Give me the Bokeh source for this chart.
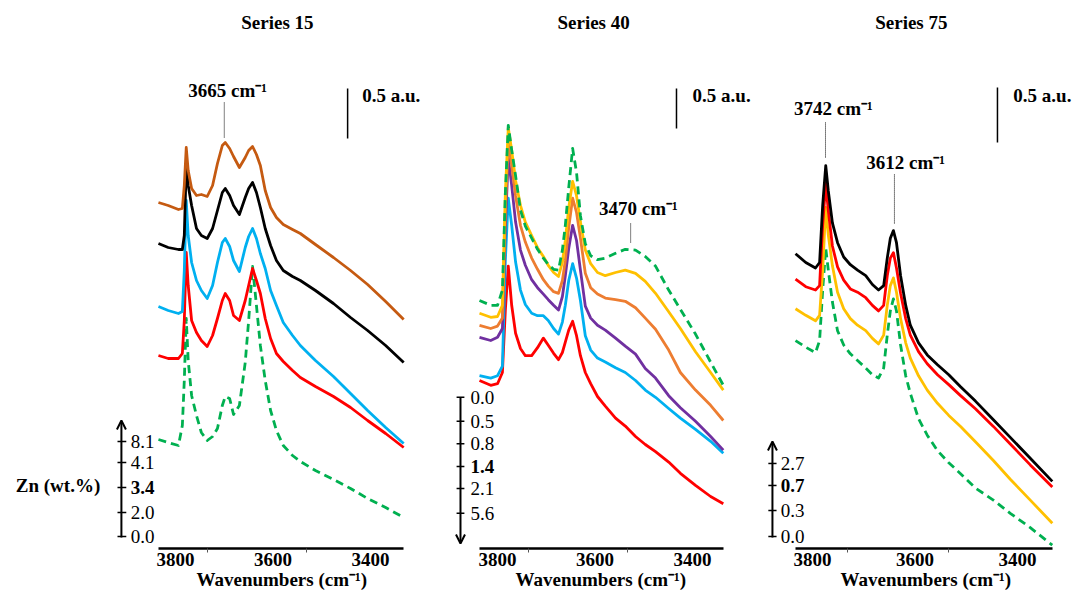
from bokeh.plotting import figure
from bokeh.layouts import row
from bokeh.models import Range1d, FixedTicker, Arrow, OpenHead, Title
from bokeh.core.properties import value
from bokeh.embed import file_html
from bokeh.resources import INLINE

FONT = "Liberation Serif"

# ---------------- data ----------------
x_ticks = [3800, 3600, 3400]
x_title = "Wavenumbers (cm\u207b\u00b9)"

# Series 15
wn15 = [3835, 3815, 3794, 3786, 3782, 3778, 3774, 3767, 3757, 3747, 3735, 3724, 3714, 3704, 3698, 3689, 3681,
        3669, 3657, 3650, 3642, 3634, 3626, 3616, 3605, 3593, 3579, 3560, 3544, 3513, 3476, 3441, 3406, 3369, 3332]
s15_brown = [3.46, 3.43, 3.39, 3.40, 3.63, 4.01, 3.78, 3.60, 3.53, 3.54, 3.52, 3.63, 3.85, 4.03, 4.06, 4.00, 3.92,
             3.81, 3.91, 3.98, 4.02, 3.94, 3.83, 3.58, 3.41, 3.31, 3.24, 3.19, 3.15, 3.04, 2.91, 2.78, 2.64, 2.47, 2.29]
s15_black = [3.05, 3.01, 2.99, 2.99, 3.13, 3.83, 3.63, 3.43, 3.20, 3.13, 3.10, 3.20, 3.38, 3.56, 3.60, 3.53, 3.43,
             3.34, 3.51, 3.60, 3.66, 3.56, 3.41, 3.20, 3.03, 2.88, 2.78, 2.72, 2.68, 2.58, 2.45, 2.31, 2.18, 2.03, 1.86]
s15_cyan = [2.42, 2.38, 2.35, 2.37, 2.78, 3.48, 3.13, 2.86, 2.68, 2.58, 2.50, 2.63, 2.86, 3.06, 3.10, 3.02, 2.88,
            2.77, 3.01, 3.12, 3.20, 3.10, 2.95, 2.80, 2.58, 2.43, 2.26, 2.13, 2.03, 1.88, 1.72, 1.55, 1.38, 1.21, 1.05]
s15_red = [1.93, 1.90, 1.90, 1.95, 2.28, 2.96, 2.63, 2.28, 2.16, 2.08, 2.02, 2.13, 2.30, 2.48, 2.55, 2.48, 2.33,
           2.28, 2.48, 2.63, 2.80, 2.68, 2.55, 2.30, 2.10, 1.95, 1.87, 1.78, 1.71, 1.62, 1.52, 1.41, 1.28, 1.15, 1.01]
s15_green = [1.09, 1.06, 1.03, 1.23, 1.68, 2.30, 1.88, 1.53, 1.33, 1.16, 1.08, 1.12, 1.20, 1.43, 1.52, 1.50, 1.34,
             1.43, 1.86, 2.28, 2.82, 2.43, 2.03, 1.68, 1.38, 1.18, 1.03, 0.93, 0.87, 0.78, 0.69, 0.60, 0.50, 0.41, 0.31]
zn15_labels = ["8.1", "4.1", "3.4", "2.0", "0.0"]
zn15_bold = "3.4"

# Series 40
wn40 = [3837, 3814, 3800, 3790, 3784, 3778, 3771, 3763, 3753, 3743, 3730, 3718, 3706, 3696, 3685, 3675, 3667, 3661,
        3654, 3646, 3638, 3630, 3620, 3609, 3595, 3579, 3558, 3538, 3517, 3497, 3476, 3449, 3425, 3394, 3363, 3337]
s40_green = [3.10, 3.04, 3.04, 3.23, 4.44, 5.29, 4.98, 4.66, 4.23, 4.03, 3.88, 3.74, 3.63, 3.55, 3.49, 3.48, 3.73, 4.04,
             4.51, 5.00, 4.70, 4.16, 3.81, 3.66, 3.61, 3.63, 3.69, 3.74, 3.73, 3.65, 3.53, 3.23, 2.99, 2.68, 2.33, 2.04]
s40_yellow = [2.94, 2.89, 2.90, 3.04, 4.44, 5.26, 4.98, 4.60, 4.29, 4.08, 3.91, 3.76, 3.65, 3.54, 3.45, 3.40, 3.58, 3.85,
              4.26, 4.59, 4.41, 4.08, 3.73, 3.56, 3.45, 3.41, 3.45, 3.48, 3.44, 3.34, 3.19, 2.96, 2.75, 2.46, 2.20, 1.98]
s40_orange = [2.79, 2.75, 2.78, 2.88, 4.23, 5.08, 4.79, 4.41, 4.04, 3.83, 3.63, 3.49, 3.36, 3.28, 3.21, 3.19, 3.35, 3.60,
              4.01, 4.38, 4.20, 3.88, 3.44, 3.26, 3.18, 3.13, 3.11, 3.09, 3.01, 2.88, 2.74, 2.48, 2.20, 1.98, 1.79, 1.60]
s40_purple = [2.64, 2.60, 2.64, 2.75, 4.01, 4.89, 4.54, 4.08, 3.73, 3.54, 3.36, 3.26, 3.18, 3.11, 3.04, 2.98, 3.15, 3.41,
              3.75, 4.04, 3.85, 3.48, 3.03, 2.88, 2.79, 2.73, 2.63, 2.53, 2.43, 2.25, 2.13, 1.91, 1.76, 1.59, 1.40, 1.23]
s40_cyan = [2.16, 2.13, 2.16, 2.28, 3.60, 4.38, 4.04, 3.58, 3.23, 3.05, 2.94, 2.91, 2.91, 2.85, 2.75, 2.68, 2.83, 3.04,
            3.35, 3.56, 3.38, 3.10, 2.66, 2.48, 2.38, 2.33, 2.26, 2.20, 2.10, 1.98, 1.89, 1.75, 1.63, 1.49, 1.34, 1.19]
s40_red = [2.10, 2.04, 2.06, 2.20, 2.98, 3.53, 3.04, 2.69, 2.50, 2.41, 2.41, 2.51, 2.63, 2.54, 2.44, 2.36, 2.45, 2.58,
           2.73, 2.84, 2.66, 2.41, 2.20, 2.06, 1.90, 1.78, 1.63, 1.53, 1.40, 1.30, 1.21, 1.08, 0.94, 0.79, 0.65, 0.56]
zn40_labels = ["0.0", "0.5", "0.8", "1.4", "2.1", "5.6"]
zn40_bold = "1.4"

# Series 75
wn75 = [3833, 3813, 3794, 3786, 3780, 3774, 3769, 3761, 3751, 3739, 3726, 3712, 3696, 3683, 3671, 3661, 3654,
        3648, 3642, 3636, 3628, 3618, 3609, 3593, 3576, 3556, 3534, 3511, 3482, 3447, 3414, 3375, 3332]
s75_black = [2.68, 2.60, 2.55, 2.60, 3.12, 3.48, 3.25, 2.96, 2.78, 2.65, 2.58, 2.53, 2.48, 2.40, 2.35, 2.39, 2.64,
             2.82, 2.89, 2.78, 2.48, 2.21, 2.03, 1.87, 1.76, 1.67, 1.58, 1.47, 1.34, 1.17, 1.01, 0.82, 0.61]
s75_red = [2.45, 2.38, 2.35, 2.39, 2.94, 3.32, 3.07, 2.75, 2.56, 2.44, 2.36, 2.33, 2.28, 2.21, 2.16, 2.21, 2.48,
           2.64, 2.69, 2.55, 2.32, 2.09, 1.94, 1.79, 1.68, 1.58, 1.49, 1.39, 1.27, 1.11, 0.95, 0.76, 0.56]
s75_gold = [2.18, 2.12, 2.07, 2.12, 2.53, 3.10, 2.85, 2.57, 2.33, 2.18, 2.09, 2.03, 1.98, 1.91, 1.86, 1.94, 2.21,
            2.39, 2.46, 2.33, 2.09, 1.87, 1.73, 1.57, 1.44, 1.32, 1.21, 1.11, 0.97, 0.80, 0.63, 0.44, 0.23]
s75_green = [1.89, 1.83, 1.78, 1.89, 2.35, 2.73, 2.53, 2.24, 1.98, 1.85, 1.77, 1.71, 1.64, 1.58, 1.55, 1.64, 1.94,
             2.16, 2.27, 2.16, 1.85, 1.57, 1.41, 1.18, 1.03, 0.89, 0.78, 0.68, 0.55, 0.44, 0.32, 0.19, 0.03]
zn75_labels = ["2.7", "0.7", "0.3", "0.0"]
zn75_bold = "0.7"

titles = ["Series 15", "Series 40", "Series 75"]
scale_text = "0.5 a.u."
scale_len = 0.5

# ---------------- colours ----------------
C_BROWN = "#C55A11"
C_BLACK = "#000000"
C_CYAN = "#00B0F0"
C_RED = "#FF0000"
C_GREEN = "#00B050"
C_GOLD = "#FFC000"
C_ORANGE = "#ED7D31"
C_PURPLE = "#7030A0"

LW = 2.8


def spectrum(p, x, y, color, dashed=False):
    p.line(x, y, line_color=color, line_width=LW, line_join="round",
           line_dash="8 5" if dashed else "solid")


def txt(p, x, y, t, bold=True, align="center", size="19px"):
    p.text(x=[x], y=[y], text=[t], text_font=value(FONT), text_font_size=size,
           text_font_style="bold" if bold else "normal", text_align=align,
           text_baseline="middle", text_color="black")


def make_panel(width, xr, y_end, bounds, minor, label_offset):
    p = figure(width=width, height=593, x_range=Range1d(*xr), y_range=Range1d(0, y_end),
               output_backend="svg", toolbar_location=None, title=None, y_axis_location=None,
               min_border=0, min_border_bottom=45, background_fill_color="white",
               border_fill_color="white")
    p.grid.visible = False
    p.outline_line_color = None
    ax = p.xaxis[0]
    ax.bounds = bounds
    ax.ticker = FixedTicker(ticks=x_ticks, minor_ticks=minor)
    ax.axis_line_width = 2.5
    ax.axis_line_color = "black"
    ax.major_tick_out = 0
    ax.major_tick_in = 0
    ax.minor_tick_out = 4
    ax.minor_tick_in = 0
    ax.minor_tick_line_color = "#555555"
    ax.major_label_text_font = FONT
    ax.major_label_text_font_style = "bold"
    ax.major_label_text_font_size = "19px"
    ax.major_label_text_color = "black"
    ax.major_label_standoff = 0
    # axis title, centred under the (bounded) axis line
    p.add_layout(Title(text=x_title, align="left", offset=label_offset, text_font=FONT,
                       text_font_style="bold", text_font_size="19px", text_color="black",
                       standoff=-4), "below")
    return p


def zn_scale(p, x, y_from, y_to, ticks_y, labels, bold_label, tx0, tx1, lx):
    p.add_layout(Arrow(x_start=x, y_start=y_from, x_end=x, y_end=y_to, line_width=2,
                       line_color="black", end=OpenHead(size=9, line_width=2, line_color="black")))
    p.segment(x0=[tx0] * len(ticks_y), y0=ticks_y, x1=[tx1] * len(ticks_y), y1=ticks_y,
              line_color="black", line_width=1.5)
    for yy, lab in zip(ticks_y, labels):
        txt(p, lx, yy, lab, bold=(lab == bold_label), align="left")


def scale_bar(p, x, y0, tx, ty):
    p.segment(x0=[x], y0=[y0], x1=[x], y1=[y0 + scale_len], line_color="black", line_width=1.5)
    txt(p, tx, ty, scale_text, align="left")


def peak_label(p, label, tx, ty, lx, ly0, ly1):
    p.segment(x0=[lx], y0=[ly0], x1=[lx], y1=[ly1], line_color="black", line_width=1, line_dash="1 1")
    txt(p, tx, ty, label)


# ---------------- panel 1 ----------------
p1 = make_panel(430, (4159, 3277), 5.48, (3332, 3835), [3735, 3531], 196)
spectrum(p1, wn15, s15_green, C_GREEN, dashed=True)
spectrum(p1, wn15, s15_red, C_RED)
spectrum(p1, wn15, s15_cyan, C_CYAN)
spectrum(p1, wn15, s15_black, C_BLACK)
spectrum(p1, wn15, s15_brown, C_BROWN)
txt(p1, 3591, 5.26, titles[0])
scale_bar(p1, 3447, 4.10, 3417, 4.53)
peak_label(p1, "3665 cm\u207b\u00b9", 3693, 4.58, 3700, 4.11, 4.46)
txt(p1, 4041, 0.63, "Zn (wt.%)")
zn_scale(p1, 3911, 0.11, 1.28, [1.07, 0.86, 0.61, 0.36, 0.12], zn15_labels, zn15_bold, 3919, 3901, 3892)

# ---------------- panel 2 ----------------
p2 = make_panel(330, (3937.5, 3260.7), 6.85, (3337, 3837), [3736, 3534], 85)
spectrum(p2, wn40, s40_red, C_RED)
spectrum(p2, wn40, s40_cyan, C_CYAN)
spectrum(p2, wn40, s40_purple, C_PURPLE)
spectrum(p2, wn40, s40_orange, C_ORANGE)
spectrum(p2, wn40, s40_yellow, C_GOLD)
spectrum(p2, wn40, s40_green, C_GREEN, dashed=True)
txt(p2, 3603, 6.575, titles[1])
scale_bar(p2, 3433, 5.25, 3400, 5.66)
peak_label(p2, "3470 cm\u207b\u00b9", 3511, 4.25, 3527, 3.825, 4.075)
zn_scale(p2, 3876, 1.8875, 0.0625, [1.89, 1.59, 1.31, 1.025, 0.75, 0.44], zn40_labels, zn40_bold,
         3884, 3868, 3855.5)

# ---------------- panel 3 ----------------
p3 = make_panel(316, (3901.3, 3284.8), 4.982, (3332, 3833), [3732, 3534], 80)
spectrum(p3, wn75, s75_green, C_GREEN, dashed=True)
spectrum(p3, wn75, s75_gold, C_GOLD)
spectrum(p3, wn75, s75_red, C_RED)
spectrum(p3, wn75, s75_black, C_BLACK)
txt(p3, 3607, 4.78, titles[2])
scale_bar(p3, 3439, 3.69, 3408, 4.12)
peak_label(p3, "3742 cm\u207b\u00b9", 3759, 4.0, 3774.5, 3.555, 3.873)
peak_label(p3, "3612 cm\u207b\u00b9", 3618, 3.51, 3640, 2.955, 3.409)
zn_scale(p3, 3878, 0.10, 0.973, [0.773, 0.573, 0.345, 0.109], zn75_labels, zn75_bold, 3886, 3870, 3862)

layout = row(p1, p2, p3, spacing=0)
open("out.html", "w").write(file_html(layout, INLINE))
